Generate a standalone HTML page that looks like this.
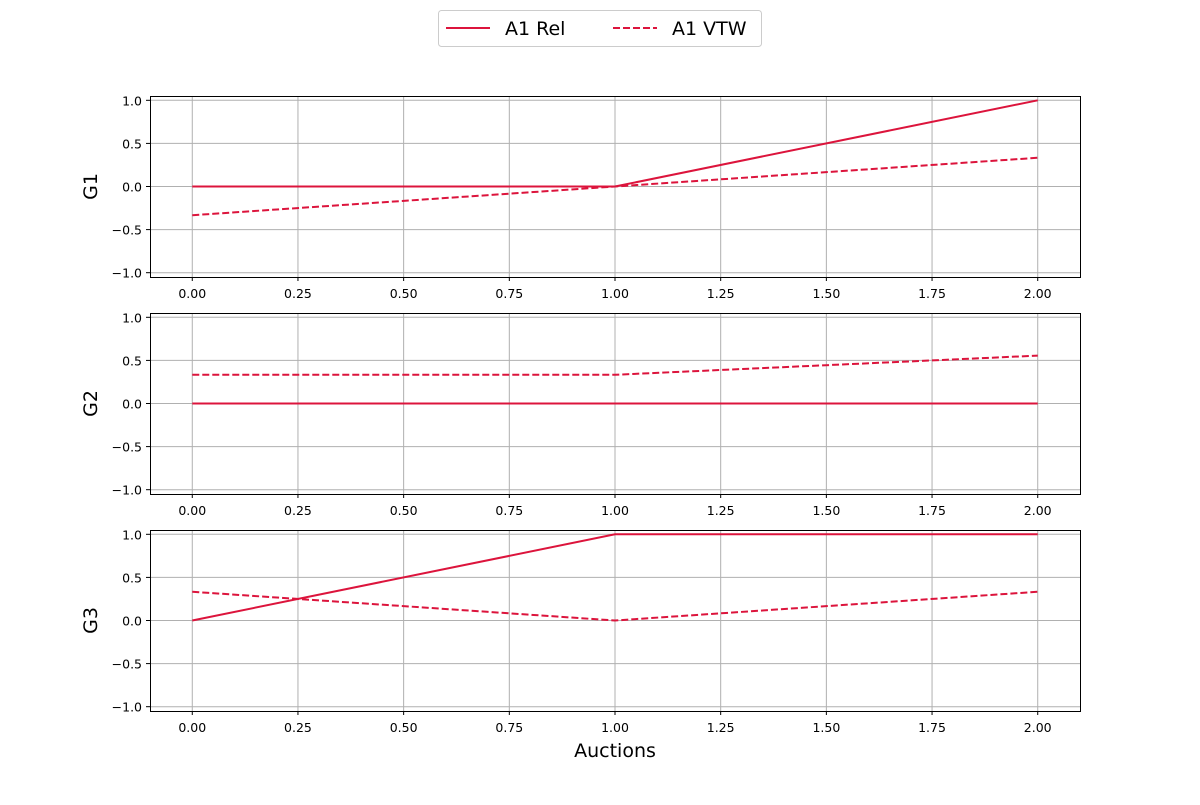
<!DOCTYPE html>
<html><head><meta charset="utf-8"><style>
body{margin:0;background:#fff;}
svg{font-family:"DejaVu Sans","Liberation Sans",sans-serif;}
</style></head><body>
<svg id="chart" width="1200" height="800" xmlns="http://www.w3.org/2000/svg">
<g>
<rect x="438.5" y="10.5" width="323" height="36" rx="3" fill="#fff" stroke="#ccc"/>
<line x1="446" y1="28" x2="490" y2="28" stroke="#dc143c" stroke-width="2"/>
<text x="505" y="35" font-size="19" fill="#000">A1 Rel</text>
<line x1="613" y1="28" x2="657" y2="28" stroke="#dc143c" stroke-width="2" stroke-dasharray="7,3"/>
<text x="672" y="35" font-size="19" fill="#000">A1 VTW</text>
</g>
<text x="615" y="757" font-size="19" text-anchor="middle">Auctions</text>
</svg>
<script>
const xs=[0,1,2];
const groups=["G1","G2","G3"];
const relValues=[[0,0,1],[0,0,0],[0,1,1]];
const vtwValues=[[-1/3,0,1/3],[1/3,1/3,5/9],[1/3,0,1/3]];
const xTicks=["0.00","0.25","0.50","0.75","1.00","1.25","1.50","1.75","2.00"];
const yTicks=["-1.0","-0.5","0.0","0.5","1.0"];
const svg=document.getElementById('chart');
const NS="http://www.w3.org/2000/svg";
const L=150,R=1080,tops=[96,313,530],H=181;
function mk(t,a,p){const e=document.createElementNS(NS,t);for(const k in a)e.setAttribute(k,a[k]);(p||svg).appendChild(e);return e;}
const sx=v=>L+(v+0.1)/2.2*(R-L);
groups.forEach((g,i)=>{
 const T=tops[i];const sy=v=>T+(1.05-v)/2.1*H;
 const grp=mk('g',{});
 
 
 xTicks.forEach(t=>{const x=sx(parseFloat(t));
  mk('line',{x1:x,x2:x,y1:T,y2:T+H,stroke:'#b0b0b0','stroke-width':1},grp);
  mk('line',{x1:x,x2:x,y1:T+H,y2:T+H+4,stroke:'#000'},grp);
  const tx=mk('text',{x:x,y:T+H+21,'font-size':12.5,'text-anchor':'middle'},grp);tx.textContent=t;});
 yTicks.forEach(t=>{const y=sy(parseFloat(t));
  mk('line',{x1:L,x2:R,y1:y,y2:y,stroke:'#b0b0b0','stroke-width':1},grp);
  mk('line',{x1:L-4,x2:L,y1:y,y2:y,stroke:'#000'},grp);
  const tx=mk('text',{x:L-8,y:y+5,'font-size':12.5,'text-anchor':'end'},grp);tx.textContent=t.replace('-','\u2212');});
 const rel=mk('polyline',{points:xs.map((x,j)=>sx(x)+','+sy(relValues[i][j])).join(' '),fill:'none',stroke:'#dc143c','stroke-width':2},grp);
 
 
 const vtw=mk('polyline',{points:xs.map((x,j)=>sx(x)+','+sy(vtwValues[i][j])).join(' '),fill:'none',stroke:'#dc143c','stroke-width':2,'stroke-dasharray':'7,3'},grp);
 
 
 mk('rect',{x:L+0.5,y:T+0.5,width:R-L,height:H,fill:'none',stroke:'#000','stroke-width':1},grp);
 const yl=mk('text',{x:0,y:0,'font-size':19,'text-anchor':'middle',transform:`translate(97,${T+H/2}) rotate(-90)`},grp);
 yl.textContent=g;
 
 
});
</script>
</body></html>
